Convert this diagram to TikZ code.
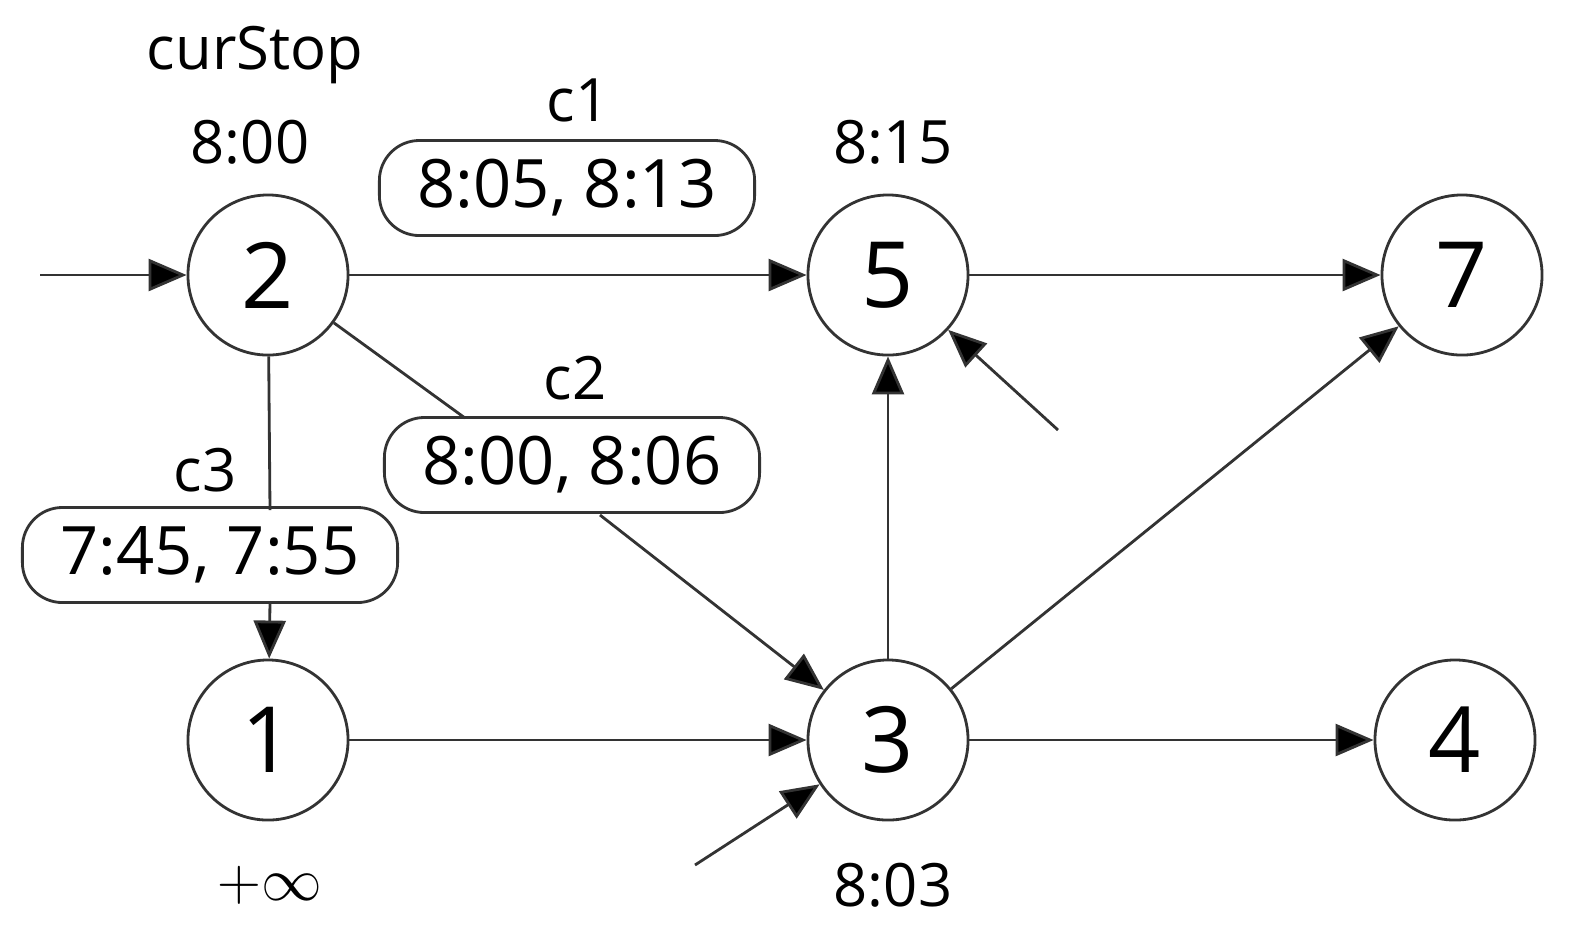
\documentclass[tikz,border=0pt]{standalone}
\usepackage{fontspec}
\setmainfont{Open Sans}
\usetikzlibrary{arrows.meta}
\begin{document}
\begin{tikzpicture}[x=0.01cm,y=-0.01cm,
 st/.style={circle,draw=black!80,line width=0.8pt,minimum size=1.6cm,inner sep=0pt,font=\fontsize{26}{28}\selectfont},
 bx/.style={draw=black!80,rounded corners=0.4cm,line width=0.8pt,minimum width=3.75cm,minimum height=0.95cm,inner sep=0pt,font=\fontsize{19}{22}\selectfont},
 lb/.style={font=\fontsize{17}{20}\selectfont,inner sep=0pt},
 e/.style={line width=0.8pt,draw=black!80,-{Triangle[length=0.38cm,width=0.32cm,fill=black]}},
 l/.style={line width=0.8pt,draw=black!80}]
\useasboundingbox (0,0) rectangle (1591,941);
\node[st] (n2) at (268,275) {2};
\node[st] (n5) at (888,275) {5};
\node[st] (n7) at (1462,275) {7};
\node[st] (n1) at (268,740) {1};
\node[st] (n3) at (888,740) {3};
\node[st] (n4) at (1455,740) {4};
\node[lb] (cs) at (255,55) {curStop};
\node[lb] (t2) at (250,142) {8:00};
\node[lb] (t5) at (893,142) {8:15};
\node[lb] (t1) at (270,885) {$+\infty$};
\node[lb] (t3) at (893,885) {8:03};
\node[lb] (lc1) at (578,100) {c1};
\node[lb] (lc2) at (575,378) {c2};
\node[lb] (lc3) at (205,470) {c3};
\node[bx] (b1) at (567,188) {8:05, 8:13};
\node[bx] (b2) at (572,465) {8:00, 8:06};
\node[bx] (b3) at (210,555) {7:45, 7:55};
\coordinate (in2) at (40,275);
\coordinate (in5) at (1058,430);
\coordinate (in3) at (695,865);
\draw[e] (in2) -- (n2);
\draw[e] (n2) -- (n5);
\draw[e] (n5) -- (n7);
\draw[l] (n2) -- (465,418);
\draw[e] (600,515) -- (n3);
\draw[l] (n2) -- (270,510);
\draw[e] (270,602) -- (n1);
\draw[e] (n1) -- (n3);
\draw[e] (n3) -- (n5);
\draw[e] (n3) -- (n7);
\draw[e] (n3) -- (n4);
\draw[e] (in5) -- (n5);
\draw[e] (in3) -- (n3);
\end{tikzpicture}
\end{document}
